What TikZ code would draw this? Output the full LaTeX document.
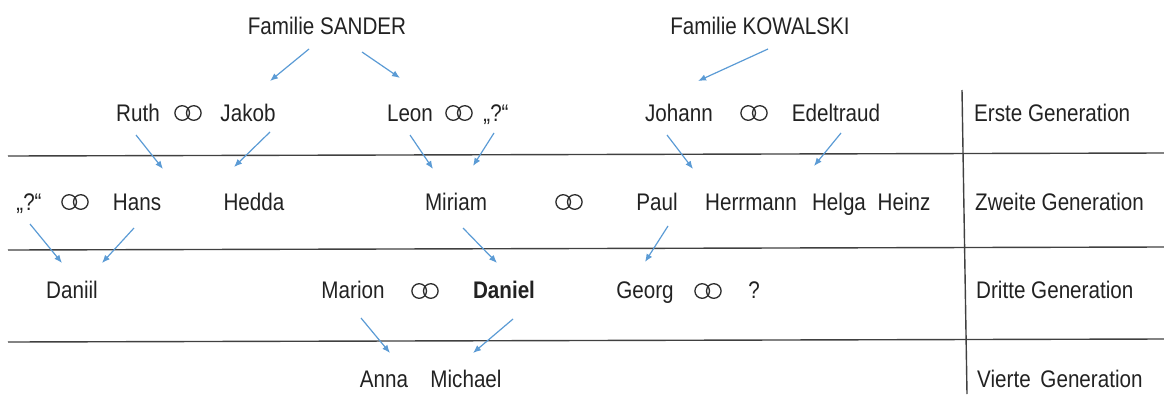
\documentclass[tikz,border=0pt]{standalone}
\usepackage{fontspec}
\setmainfont{Liberation Sans}[FakeStretch=0.86]
\usetikzlibrary{arrows.meta}
\definecolor{arrowblue}{RGB}{91,155,213}
\definecolor{txt}{RGB}{34,34,34}
\definecolor{rulegray}{RGB}{64,64,64}
\definecolor{ringgray}{RGB}{45,45,45}
\begin{document}
\begin{tikzpicture}[x=1pt,y=-1pt,
  lbl/.style={anchor=base,inner sep=0pt,text=txt,font=\fontsize{24}{28}\selectfont},
  gen/.style={lbl,anchor=base west},
  rel/.style={draw=arrowblue,line width=1.2pt,-{Latex[length=8pt,width=6.5pt]}},
  rulel/.style={draw=rulegray,line width=1.4pt},
  marriage/.pic={\draw[draw=ringgray,line width=1.3pt] (-5.8,0) circle[radius=7.3pt] (5.8,0) circle[radius=7.3pt];}]
\useasboundingbox (0,0) rectangle (1164,394);
% table rules
\draw[rulel] (8,156) -- (1164,153);
\draw[rulel] (8,250) -- (1164,247);
\draw[rulel] (8,342) -- (1164,339);
\draw[rulel] (962,90) -- (967,394);
% families
\node[lbl] (sander) at (327,34) {Familie SANDER};
\node[lbl] (kowalski) at (760,34) {Familie KOWALSKI};
% generation labels
\node[gen] (g1) at (974,121) {Erste Generation};
\node[gen] (g2) at (975,210) {Zweite Generation};
\node[gen] (g3) at (976,298) {Dritte Generation};
\node[gen] (g4) at (977,387) {Vierte\, Generation};
% row 1
\node[lbl] (ruth) at (138,121) {Ruth};
\pic (m1) at (188,113) {marriage};
\node[lbl] (jakob) at (248,121) {Jakob};
\node[lbl] (leon) at (410,121) {Leon};
\pic (m2) at (459,113) {marriage};
\node[lbl] (q1) at (496,121) {„?“};
\node[lbl] (johann) at (679,121) {Johann};
\pic (m3) at (754,113) {marriage};
\node[lbl] (edeltraud) at (836,121) {Edeltraud};
% row 2
\node[lbl] (q2) at (29,210) {„?“};
\pic (m4) at (75,202) {marriage};
\node[lbl] (hans) at (137,210) {Hans};
\node[lbl] (hedda) at (254,210) {Hedda};
\node[lbl] (miriam) at (456,210) {Miriam};
\pic (m5) at (569,202) {marriage};
\node[lbl] (paul) at (657,210) {Paul};
\node[lbl] (herrmann) at (751,210) {Herrmann};
\node[lbl] (helga) at (839,210) {Helga};
\node[lbl] (heinz) at (904,210) {Heinz};
% row 3
\node[lbl] (daniil) at (72,298) {Daniil};
\node[lbl] (marion) at (353,298) {Marion};
\pic (m6) at (425,291) {marriage};
\node[lbl] (daniel) at (504,298) {\bfseries Daniel};
\node[lbl] (georg) at (645,298) {Georg};
\pic (m7) at (708,291) {marriage};
\node[lbl] (q3) at (754,298) {?};
% row 4
\node[lbl] (anna) at (384,387) {Anna};
\node[lbl] (michael) at (466,387) {Michael};
% arrow end points
\coordinate (sA) at (309,49);  \coordinate (sAe) at (270,81);
\coordinate (sB) at (362,52);  \coordinate (sBe) at (400,78);
\coordinate (kA) at (768,49);  \coordinate (kAe) at (698,81);
\coordinate (r1) at (136,135); \coordinate (r1e) at (163,169);
\coordinate (j1) at (270,132); \coordinate (j1e) at (234,167);
\coordinate (l1) at (410,135); \coordinate (l1e) at (433,169);
\coordinate (q1s) at (494,133); \coordinate (q1e) at (473,166);
\coordinate (jo1) at (667,135); \coordinate (jo1e) at (693,169);
\coordinate (ed1) at (841,133); \coordinate (ed1e) at (814,166);
\coordinate (q2s) at (30,224); \coordinate (q2e) at (62,263);
\coordinate (h2) at (134,228); \coordinate (h2e) at (102,263);
\coordinate (mi2) at (463,228); \coordinate (mi2e) at (497,263);
\coordinate (p2) at (668,226); \coordinate (p2e) at (645,262);
\coordinate (ma3) at (361,318); \coordinate (ma3e) at (390,353);
\coordinate (d3) at (513,319); \coordinate (d3e) at (473,353);
% arrows
\draw[rel] (sA) -- (sAe);
\draw[rel] (sB) -- (sBe);
\draw[rel] (kA) -- (kAe);
\draw[rel] (r1) -- (r1e);
\draw[rel] (j1) -- (j1e);
\draw[rel] (l1) -- (l1e);
\draw[rel] (q1s) -- (q1e);
\draw[rel] (jo1) -- (jo1e);
\draw[rel] (ed1) -- (ed1e);
\draw[rel] (q2s) -- (q2e);
\draw[rel] (h2) -- (h2e);
\draw[rel] (mi2) -- (mi2e);
\draw[rel] (p2) -- (p2e);
\draw[rel] (ma3) -- (ma3e);
\draw[rel] (d3) -- (d3e);
\end{tikzpicture}
\end{document}
